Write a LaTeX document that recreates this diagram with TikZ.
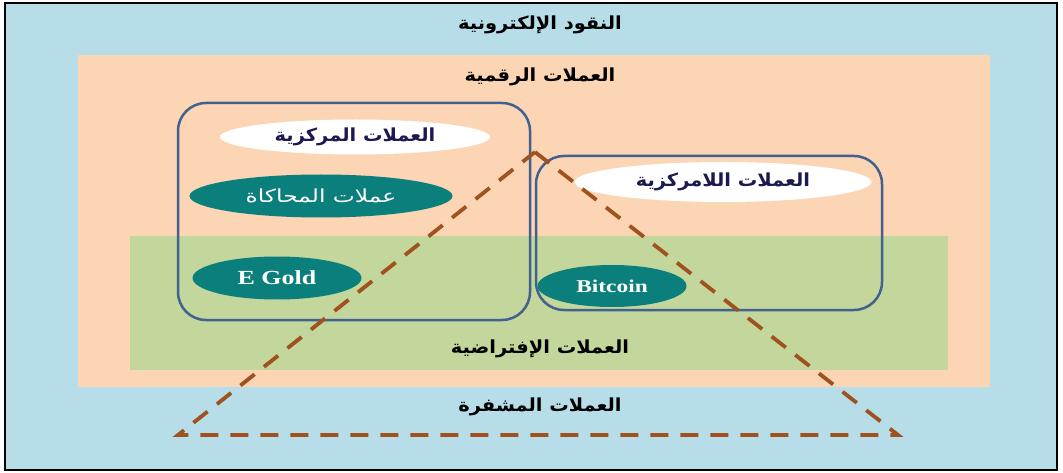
\documentclass[tikz,border=0pt]{standalone}
\usepackage{fontspec}
\setmainfont{Liberation Serif}
\newfontfamily\arabicfont[Script=Arabic,FakeStretch=1.08]{DejaVu Sans}
\newfontfamily\arabicwide[Script=Arabic,FakeStretch=1.3]{DejaVu Sans}
\newfontfamily\latinwide[FakeStretch=1.3]{Liberation Serif}
\TeXXeTstate=1
\usetikzlibrary{shapes.geometric}
\definecolor{bgblue}{HTML}{B7DDE8}
\definecolor{peach}{HTML}{FCD5B5}
\definecolor{sage}{HTML}{C3D69B}
\definecolor{tealfill}{HTML}{0B7F7B}
\definecolor{framecol}{HTML}{41618F}
\definecolor{brown}{HTML}{A0521E}
\definecolor{navy}{HTML}{1A1A50}
\tikzset{
  ar/.style={font=\arabicfont\bfseries\fontsize{18}{21}\selectfont, text=black},
  panel/.style={draw=framecol, line width=2.5pt, rounded corners=28pt},
  whiteov/.style={ellipse, fill=white, inner sep=0pt, text=navy, font=\arabicfont\bfseries\fontsize{18}{21}\selectfont},
  tealov/.style={ellipse, fill=tealfill, inner sep=0pt, text=white},
  tri/.style={draw=brown, line width=3.8pt, dash pattern=on 18pt off 12pt}
}
\begin{document}
\begin{tikzpicture}[x=1pt,y=-1pt]
\useasboundingbox (0,0) rectangle (1063,473);
\fill[white] (0,0) rectangle (1063,473);
\draw[fill=bgblue, draw=black, line width=2.5pt] (5,3) rectangle (1057,470);
\fill[peach] (78,55) rectangle (990,387);
\fill[sage] (130,236) rectangle (948,370);
\node[ar] (tElec) at (540,25) {\beginR النقود الإلكترونية\endR};
\node[ar] (tDig) at (540,77) {\beginR العملات الرقمية\endR};
\node[ar] (tVirt) at (540,349) {\beginR العملات الإفتراضية\endR};
\node[ar] (tCrypt) at (540,407) {\beginR العملات المشفرة\endR};
\draw[panel] (178,103) rectangle (530,320);
\draw[panel] (536,156) rectangle (882,310);
\node[whiteov, minimum width=270pt, minimum height=35pt] (cen) at (355,137) {\beginR العملات المركزية\endR};
\node[whiteov, minimum width=297pt, minimum height=40pt] (dec) at (723,182) {\beginR العملات اللامركزية\endR};
\node[tealov, minimum width=263pt, minimum height=43pt, font=\arabicwide\fontsize{18}{20}\selectfont] (sim) at (321,196) {\beginR عملات المحاكاة\endR};
\node[tealov, minimum width=169pt, minimum height=43pt, font=\latinwide\bfseries\fontsize{20}{22}\selectfont] (egold) at (277,278) {E Gold};
\node[tealov, minimum width=149pt, minimum height=42pt, font=\latinwide\bfseries\fontsize{18}{20}\selectfont] (btc) at (612,286) {Bitcoin};
\coordinate (apex) at (535,152);
\coordinate (bl) at (178,435);
\coordinate (br) at (898,435);
\draw[tri] (apex) -- (br) -- (bl) -- cycle;
\end{tikzpicture}
\end{document}
